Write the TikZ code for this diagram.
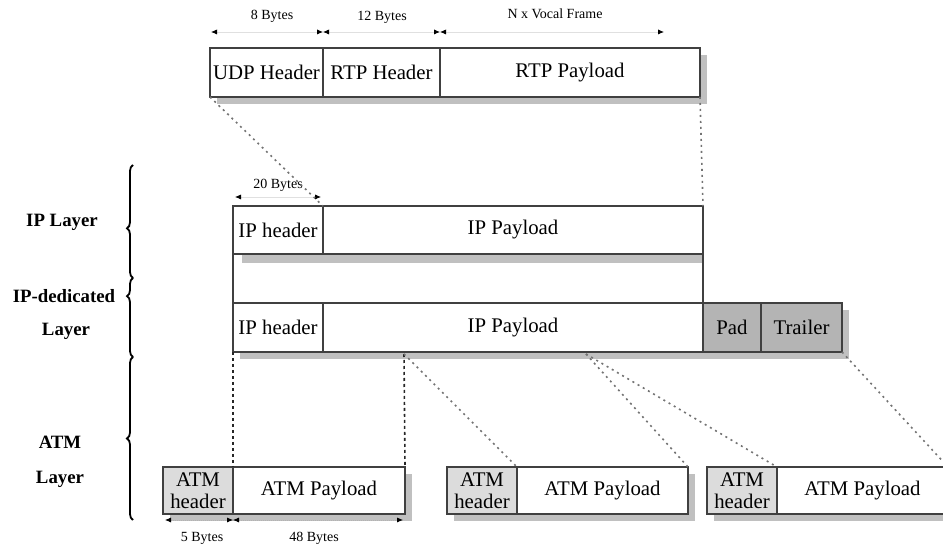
\documentclass[tikz,border=0pt]{standalone}
\usepackage{fontspec}
\setmainfont{Liberation Serif}
\usetikzlibrary{arrows.meta, positioning, shadows, decorations.pathreplacing}
\definecolor{cEdge}{HTML}{404040}
\definecolor{cShade}{HTML}{C0C0C0}
\definecolor{cPad}{HTML}{B4B4B4}
\definecolor{cAtmH}{HTML}{DCDCDC}

\begin{document}
\begin{tikzpicture}[
  x=0.5pt, y=-0.5pt,
  plaincell/.style={draw=cEdge, fill=white, line width=0.6pt, inner sep=0pt, outer sep=0pt,
               minimum height=24.5pt, align=center, font=\fontsize{10.4}{11}\selectfont},
  cell/.style={plaincell,
               drop shadow={shadow xshift=3.5pt, shadow yshift=-3.5pt, fill=cShade, opacity=1}},
  padcell/.style={cell, fill=cPad},
  atmh/.style={cell, fill=cAtmH, minimum width=35pt, minimum height=23.5pt},
  atmp/.style={cell, minimum width=85.5pt, minimum height=23.5pt},
  lyr/.style={font=\bfseries\fontsize{9.4}{11}\selectfont, inner sep=0pt},
  dimlbl/.style={font=\fontsize{7}{8}\selectfont, inner sep=0pt},
  dimarr/.style={{Latex[length=3pt,width=2.6pt,color=black]}-{Latex[length=3pt,width=2.6pt,color=black]},
                 draw=black!12, line width=0.4pt},
  sepl/.style={draw=cEdge, line width=0.6pt},
  vlnk/.style={draw=black!85, line width=0.8pt, dash pattern=on 1.5pt off 1.5pt},
  lnk/.style={draw=black!55, line width=0.8pt, dash pattern=on 1pt off 2pt},
  brc/.style={decorate, decoration={brace, amplitude=3pt}, line width=0.9pt}
]
\useasboundingbox (0,0) rectangle (943,555);

% UDP / RTP packet
\node[cell, minimum width=56.5pt, anchor=north west] (udp) at (210,48) {UDP Header};
\node[cell, minimum width=58.5pt, right=0pt of udp] (rtph) {RTP Header};
\node[cell, minimum width=130pt, right=0pt of rtph] (rtppl) {RTP Payload};

\coordinate (t0) at (211,32);
\coordinate (t1) at (323,32);
\coordinate (t2) at (440,32);
\coordinate (t3) at (664,32);
\draw[dimarr] (t0) -- (t1);
\draw[dimarr] (t1) -- (t2);
\draw[dimarr] (t2) -- (t3);
\node[dimlbl] (b8) at (272,16) {8 Bytes};
\node[dimlbl] (b12) at (382,17) {12 Bytes};
\node[dimlbl] (bN) at (555,14) {N x Vocal Frame};

% IP layer
\node[plaincell, minimum width=45pt, minimum height=24pt, anchor=north west,
      drop shadow={shadow xshift=4.5pt, shadow yshift=-4.5pt, fill=cShade, opacity=1}] (iph1) at (233,206) {IP header};
\node[plaincell, minimum width=190pt, minimum height=24pt, right=0pt of iph1,
      drop shadow={shadow xshift=0pt, shadow yshift=-4.5pt, fill=cShade, opacity=1}] (ippl1) {IP Payload};

\coordinate (i0) at (235,197);
\coordinate (i1) at (321,197);
\draw[dimarr] (i0) -- (i1);
\node[dimlbl] (b20) at (278,185) {20 Bytes};

% IP-dedicated layer
\node[cell, minimum width=45pt, anchor=north west] (iph2) at (233,303) {IP header};
\node[cell, minimum width=190pt, right=0pt of iph2] (ippl2) {IP Payload};
\node[padcell, minimum width=29pt, right=0pt of ippl2] (pad) {Pad};
\node[padcell, minimum width=40.5pt, right=0pt of pad] (trl) {Trailer};

% ATM layer
\node[atmh, anchor=north west] (atmh1) at (163,467) {ATM\\header};
\node[atmp, minimum width=86pt, right=0pt of atmh1] (atmpl1) {ATM Payload};
\node[atmh, anchor=north west] (atmh2) at (447,467) {ATM\\header};
\node[atmp, right=0pt of atmh2] (atmpl2) {ATM Payload};
\node[atmh, anchor=north west] (atmh3) at (707,467) {ATM\\header};
\node[atmp, right=0pt of atmh3] (atmpl3) {ATM Payload};

\coordinate (a0) at (165,520);
\coordinate (a1) at (233,520);
\coordinate (a2) at (403,520);
\draw[dimarr, draw=black!30, dash pattern=on 0.5pt off 0.5pt] (a0) -- (a1);
\draw[dimarr, draw=black!30, dash pattern=on 0.5pt off 0.5pt] (a1) -- (a2);
\node[dimlbl] (b5) at (202,538) {5 Bytes};
\node[dimlbl] (b48) at (314,538) {48 Bytes};

% mapping lines
\draw[lnk] (udp.south west) -- (iph1.north east);
\draw[lnk] (rtppl.south east) -- (ippl1.north east);
\draw[sepl] (iph1.south west) -- (iph2.north west);
\draw[sepl] (ippl1.south east) -- (ippl2.north east);

\coordinate (cut1) at (404,354);
\coordinate (cut2) at (586,354);
\draw[vlnk] (iph2.south west) -- (atmpl1.north west);
\draw[vlnk] (cut1) -- (atmpl1.north east);
\draw[lnk] (cut1) -- (atmh2.north east);
\draw[lnk] (cut2) -- (atmpl2.north east);
\draw[lnk] (cut2) -- (atmh3.north east);
\draw[lnk] (trl.south east) -- (atmpl3.north east);

% layer names
\draw[brc, decoration={aspect=0.44}] (133,278) -- (133,165);
\draw[brc, decoration={aspect=0.77}] (133,357) -- (133,278);
\draw[brc, decoration={aspect=0.5}] (133,520) -- (133,357);
\node[lyr] (lip) at (62,222) {IP Layer};
\node[lyr] (lded) at (64,296) {IP-dedicated};
\node[lyr] (lded2) at (66,331) {Layer};
\node[lyr] (latm) at (60,442) {ATM};
\node[lyr] (latm2) at (60,479) {Layer};

\end{tikzpicture}
\end{document}
